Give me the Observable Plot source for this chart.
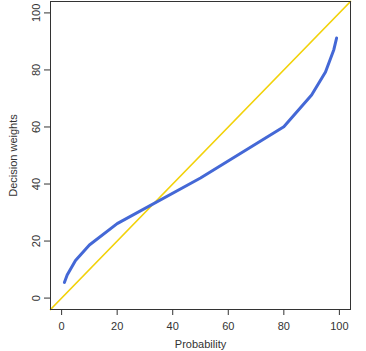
<!DOCTYPE html>
<html>
<head>
<meta charset="utf-8">
<script src="https://cdn.jsdelivr.net/npm/d3@7"></script>
<script src="https://cdn.jsdelivr.net/npm/@observablehq/plot@0.6"></script>
<style>
  html, body { margin: 0; padding: 0; background: #fff; }
  #chart svg { display: block; }
</style>
</head>
<body>
<div id="chart"></div>
<script>
// Probability (%) and corresponding decision weights
const probability = [1, 2, 5, 10, 20, 50, 80, 90, 95, 98, 99];
const decisionWeights = [5.5, 8.1, 13.2, 18.6, 26.1, 42.1, 60.1, 71.2, 79.3, 87.1, 91.2];
const axisDomain = [-4, 104];
const tickValues = [0, 20, 40, 60, 80, 100];

const curve = probability.map((p, i) => ({p, w: decisionWeights[i]}));

const chart = Plot.plot({
  width: 366,
  height: 351,
  marginLeft: 50,
  marginRight: 16,
  marginTop: 1,
  marginBottom: 42,
  style: {fontFamily: "'Liberation Sans', Arial, sans-serif", fontSize: "11px", color: "#333", background: "#fff"},
  x: {domain: axisDomain, ticks: tickValues},
  y: {domain: axisDomain, ticks: tickValues},
  marks: [
    Plot.line(axisDomain, {x: d => d, y: d => d, stroke: "#f2d20a", strokeWidth: 1.7}),
    Plot.line(curve, {x: "p", y: "w", stroke: "#4468d6", strokeWidth: 3, curve: "linear"}),
    Plot.frame({stroke: "#333", strokeWidth: 1}),
    Plot.axisX({ticks: tickValues, tickSize: 6, tickPadding: 7, stroke: "#333", fill: "#333",
      label: "Probability", labelAnchor: "center", labelArrow: "none", labelOffset: 38}),
    Plot.axisY({ticks: tickValues, tickSize: 6, tickPadding: 5, tickRotate: -90, stroke: "#333", fill: "#333",
      label: "Decision weights", labelAnchor: "center", labelArrow: "none", labelOffset: 41})
  ]
});
document.getElementById("chart").appendChild(chart);
</script>
</body>
</html>
